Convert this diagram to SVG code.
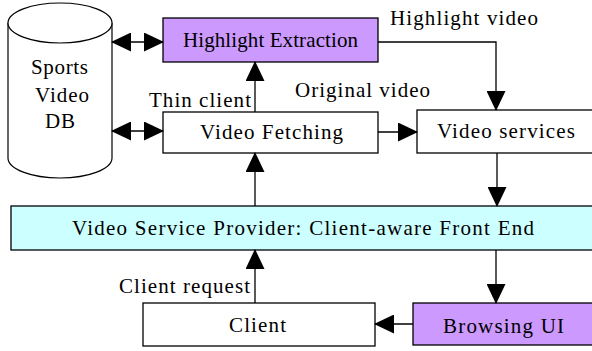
<svg xmlns="http://www.w3.org/2000/svg" width="592" height="351" viewBox="0 0 592 351">
<defs>
<style>
.box{stroke:#000;stroke-width:1.3}
.w{fill:#fff}
.p{fill:#cc99ff}
.c{fill:#ccffff}
text{font-family:"Liberation Serif","Times New Roman",serif;font-size:21px;fill:#000}
.ln{fill:none;stroke:#000;stroke-width:1.3}
</style>
<marker id="ah" markerUnits="userSpaceOnUse" markerWidth="20" markerHeight="19" refX="19" refY="9.5" orient="auto-start-reverse" viewBox="0 0 20 19">
<path d="M0,0 L20,9.5 L0,19 Z" fill="#000"/>
</marker>
</defs>
<rect width="592" height="351" fill="#fff"/>
<g id="db">
<path d="M8,23 L8,158 A52,20 0 0 0 112,158 L112,23" fill="#fff" stroke="#000" stroke-width="1.2"/>
<ellipse cx="60" cy="23" rx="52" ry="20" fill="#fff" stroke="#000" stroke-width="1.2"/>
<text x="31" y="74" textLength="57" lengthAdjust="spacing">Sports</text>
<text x="35" y="102" textLength="54" lengthAdjust="spacing">Video</text>
<text x="45" y="128" textLength="30" lengthAdjust="spacing">DB</text>
</g>
<g id="highlight-extraction">
<rect class="box p" x="163" y="18" width="215" height="44"/>
<text x="183" y="47" textLength="175" lengthAdjust="spacing">Highlight Extraction</text>
</g>
<g id="video-fetching">
<rect class="box w" x="163" y="112" width="215" height="41"/>
<text x="200" y="139" textLength="143" lengthAdjust="spacing">Video Fetching</text>
</g>
<g id="video-services">
<rect class="box w" x="417" y="110" width="185" height="43"/>
<text x="437" y="138" textLength="138" lengthAdjust="spacing">Video services</text>
</g>
<g id="front-end">
<rect class="box c" x="11" y="206" width="590" height="44"/>
<text x="72" y="235" textLength="462" lengthAdjust="spacing">Video Service Provider: Client-aware Front End</text>
</g>
<g id="client">
<rect class="box w" x="143" y="303" width="232" height="43"/>
<text x="229" y="332" textLength="57" lengthAdjust="spacing">Client</text>
</g>
<g id="browsing-ui">
<rect class="box p" x="413" y="303" width="185" height="42"/>
<text x="443" y="333" textLength="121" lengthAdjust="spacing">Browsing UI</text>
</g>
<g id="connectors">
<line class="ln" x1="112" y1="42" x2="163" y2="42" marker-start="url(#ah)" marker-end="url(#ah)"/>
<line class="ln" x1="112" y1="131" x2="163" y2="131" marker-start="url(#ah)" marker-end="url(#ah)"/>
<line class="ln" x1="255" y1="112" x2="255" y2="62" marker-end="url(#ah)"/>
<polyline class="ln" points="378,42 496,42 496,110" marker-end="url(#ah)"/>
<line class="ln" x1="378" y1="132" x2="417" y2="132" marker-end="url(#ah)"/>
<line class="ln" x1="497" y1="153" x2="497" y2="206" marker-end="url(#ah)"/>
<line class="ln" x1="255" y1="206" x2="255" y2="153" marker-end="url(#ah)"/>
<line class="ln" x1="496" y1="250" x2="496" y2="303" marker-end="url(#ah)"/>
<line class="ln" x1="255" y1="303" x2="255" y2="250" marker-end="url(#ah)"/>
<line class="ln" x1="413" y1="324" x2="375" y2="324" marker-end="url(#ah)"/>
<text x="390" y="25" textLength="148" lengthAdjust="spacing">Highlight video</text>
<text x="149" y="107" textLength="102" lengthAdjust="spacing">Thin client</text>
<text x="295" y="97" textLength="135" lengthAdjust="spacing">Original video</text>
<text x="119" y="293" textLength="131" lengthAdjust="spacing">Client request</text>
</g>
</svg>
